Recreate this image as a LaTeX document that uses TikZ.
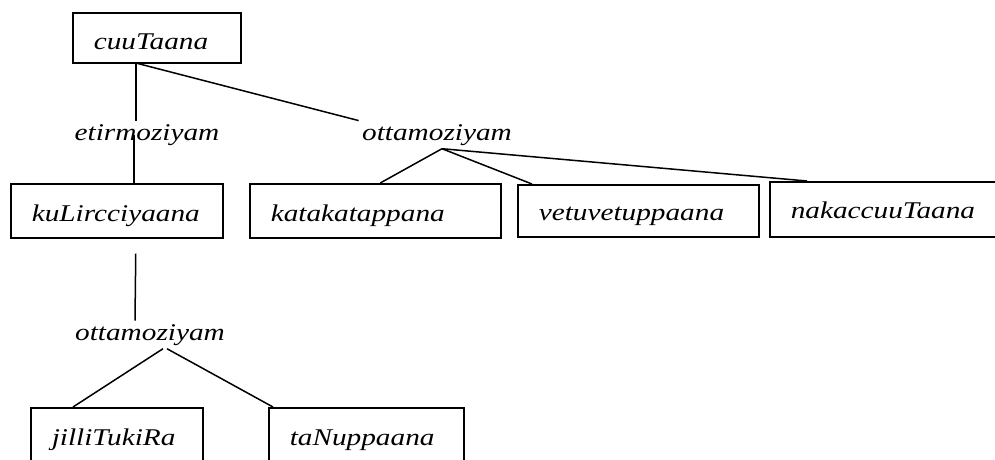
\documentclass[tikz,border=0pt]{standalone}
\usepackage{fontspec}
\setmainfont{Liberation Serif}[FakeStretch=1.22]
\usetikzlibrary{positioning}

\tikzset{
  wordbox/.style={draw=black, line width=1.5pt, anchor=north west, inner xsep=21pt, inner ysep=0pt,
    align=left, text height=38pt, text depth=16pt, font=\fontsize{24}{28}\selectfont\itshape},
  relword/.style={anchor=base, font=\fontsize{24}{28}\selectfont\itshape},
  link/.style={line width=1.5pt}
}

\begin{document}
\begin{tikzpicture}[x=1pt, y=-1pt]
  \useasboundingbox (0,0) rectangle (995,459);
  \clip (0,0) rectangle (995,459);

  % Wurzel
  \node[wordbox, text width=126pt, text height=37pt, text depth=13pt] (cuuTaana) at (72,12) {cuuTaana};

  % Relationen
  \node[relword] (etir) at (147,140) {etirmoziyam};
  \node[relword] (otta) at (437,140) {ottamoziyam};

  % zweite Ebene
  \node[wordbox, text width=170pt] (kuLirc) at (10,183) {kuLircciyaana};
  \node[wordbox, text width=209pt] (katak) at (249,183) {katakatappana};
  \node[wordbox, text width=199pt, text height=36pt, text depth=16pt] (vetuv) at (517,184) {vetuvetuppaana};
  \node[wordbox, text width=218pt, text height=37pt, text depth=18pt] (nakac) at (769,181) {nakaccuuTaana};

  % dritte Ebene
  \node[relword] (ottab) at (150,340) {ottamoziyam};
  \node[wordbox, text width=130pt, text height=38pt, text depth=32pt] (jilli) at (30,407) {jilliTukiRa};
  \node[wordbox, text width=153pt, text height=38pt, text depth=32pt] (taNup) at (268,407) {taNuppaana};

  % Verbindungen
  \draw[link] ([xshift=-21pt]cuuTaana.south) -- ([xshift=-21pt]cuuTaana.south |- etir.north);
  \draw[link] ([xshift=17pt]kuLirc.north) -- ([xshift=17pt]kuLirc.north |- etir.center);
  \draw[link] ([xshift=-19pt]cuuTaana.south) -- (otta.north west);
  \draw[link] ([xshift=5pt]otta.south) -- ([xshift=5pt]katak.north);
  \draw[link] ([xshift=5pt]otta.south) -- ([xshift=15pt]vetuv.north west);
  \draw[link] ([xshift=5pt]otta.south) -- ([xshift=38pt]nakac.north west);
  \draw[link] ([xshift=19pt, yshift=-15pt]kuLirc.south) -- ([xshift=-15pt]ottab.north);
  \draw[link] ([xshift=13pt]ottab.south) -- ([xshift=43pt]jilli.north west);
  \draw[link] ([xshift=17pt]ottab.south) -- ([xshift=5pt]taNup.north west);
\end{tikzpicture}
\end{document}
